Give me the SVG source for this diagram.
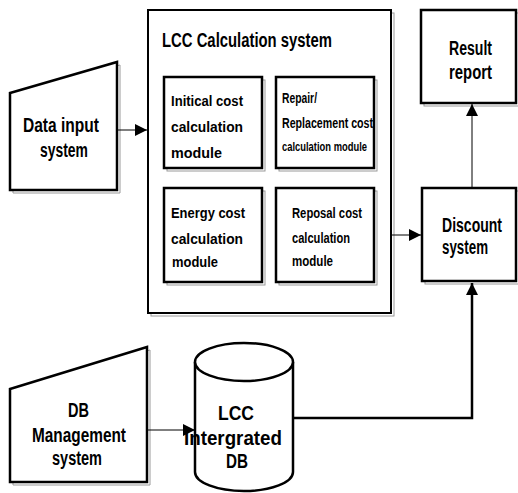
<svg xmlns="http://www.w3.org/2000/svg" width="518" height="493" viewBox="0 0 518 493">
<defs>
<style>
.sh{fill:none;stroke:#9a9a9a;stroke-width:1}
.bx{fill:#fff;stroke:#000;stroke-width:2.5}
.big{fill:#fff;stroke:#000;stroke-width:2}
.t{font-family:"Liberation Sans",Arial,sans-serif;font-weight:bold;fill:#000}
.l{font-size:19.5px}
.m{font-size:14px}
.s{font-size:13px}
.thin{fill:none;stroke:#000;stroke-width:1}
.thick{fill:none;stroke:#000;stroke-width:2.5}
</style>
<marker id="ah" markerUnits="userSpaceOnUse" markerWidth="12" markerHeight="12" viewBox="0 0 12 12" refX="12" refY="6" orient="auto">
<path d="M0,0 L12,6 L0,12 Z" fill="#000"/>
</marker>
</defs>
<rect width="518" height="493" fill="#fff"/>

<g id="data-input">
<polygon class="sh" points="13,96 120,65 120,193 13,193"/>
<polygon class="bx" points="10,93 117,62 117,190 10,190"/>
<text class="t l" x="23" y="132" textLength="76" lengthAdjust="spacingAndGlyphs">Data input</text>
<text class="t l" x="40" y="157" textLength="48" lengthAdjust="spacingAndGlyphs">system</text>
</g>

<g id="lcc-calc">
<rect class="sh" x="151" y="13" width="243" height="303"/>
<rect class="big" x="148" y="10" width="243" height="303"/>
<text class="t l" x="162" y="47" textLength="170" lengthAdjust="spacingAndGlyphs">LCC Calculation system</text>
</g>

<g id="initial-cost">
<rect class="sh" x="167" y="80" width="98" height="91"/>
<rect class="bx" x="164" y="77" width="98" height="91"/>
<text class="t m" x="171" y="106" textLength="72" lengthAdjust="spacingAndGlyphs">Initical cost</text>
<text class="t m" x="171" y="132" textLength="72" lengthAdjust="spacingAndGlyphs">calculation</text>
<text class="t m" x="171" y="158" textLength="51" lengthAdjust="spacingAndGlyphs">module</text>
</g>

<g id="repair-cost">
<rect class="sh" x="279" y="80" width="98" height="91"/>
<rect class="bx" x="276" y="77" width="98" height="91"/>
<text class="t m" x="282" y="103" textLength="35" lengthAdjust="spacingAndGlyphs">Repair/</text>
<text class="t m" x="282" y="128" textLength="91" lengthAdjust="spacingAndGlyphs">Replacement cost</text>
<text class="t s" x="282" y="151" textLength="85" lengthAdjust="spacingAndGlyphs">calculation module</text>
</g>

<g id="energy-cost">
<rect class="sh" x="167" y="191" width="98" height="94"/>
<rect class="bx" x="164" y="188" width="98" height="94"/>
<text class="t m" x="171" y="218" textLength="74" lengthAdjust="spacingAndGlyphs">Energy cost</text>
<text class="t m" x="171" y="244" textLength="72" lengthAdjust="spacingAndGlyphs">calculation</text>
<text class="t m" x="172" y="267" textLength="46" lengthAdjust="spacingAndGlyphs">module</text>
</g>

<g id="reposal-cost">
<rect class="sh" x="279" y="191" width="98" height="94"/>
<rect class="bx" x="276" y="188" width="98" height="94"/>
<text class="t m" x="292" y="218" textLength="70" lengthAdjust="spacingAndGlyphs">Reposal cost</text>
<text class="t m" x="292" y="243" textLength="58" lengthAdjust="spacingAndGlyphs">calculation</text>
<text class="t m" x="292" y="266" textLength="41" lengthAdjust="spacingAndGlyphs">module</text>
</g>

<g id="result-report">
<rect class="sh" x="424" y="13" width="96" height="93"/>
<rect class="bx" x="421" y="10" width="95" height="93"/>
<text class="t l" x="449" y="55" textLength="43" lengthAdjust="spacingAndGlyphs">Result</text>
<text class="t l" x="449" y="79" textLength="43" lengthAdjust="spacingAndGlyphs">report</text>
</g>

<g id="discount">
<rect class="sh" x="425" y="191" width="96" height="93"/>
<rect class="bx" x="422" y="188" width="94" height="93"/>
<text class="t l" x="442" y="232" textLength="60" lengthAdjust="spacingAndGlyphs">Discount</text>
<text class="t l" x="442" y="254" textLength="46" lengthAdjust="spacingAndGlyphs">system</text>
</g>

<g id="db-management">
<polygon class="sh" points="13,392 150,350 150,485 13,485"/>
<polygon class="bx" points="10,389 147,347 147,482 10,482"/>
<text class="t l" x="68" y="417" textLength="21" lengthAdjust="spacingAndGlyphs">DB</text>
<text class="t l" x="32" y="442" textLength="94" lengthAdjust="spacingAndGlyphs">Management</text>
<text class="t l" x="52" y="465" textLength="50" lengthAdjust="spacingAndGlyphs">system</text>
</g>

<g id="lcc-db">
<path class="bx" d="M195,362 A49,19 0 0,1 293,362 L293,472 A49,19 0 0,1 195,472 Z"/>
<path class="bx" fill="none" d="M195,362 A49,19 0 0,0 293,362"/>
<text class="t l" text-anchor="middle" x="236" y="420" textLength="36" lengthAdjust="spacingAndGlyphs">LCC</text>
<text class="t l" text-anchor="middle" x="233" y="445" textLength="98" lengthAdjust="spacingAndGlyphs">Intergrated</text>
<text class="t l" text-anchor="middle" x="237" y="468" textLength="22" lengthAdjust="spacingAndGlyphs">DB</text>
</g>

<g id="connectors">
<line class="thin" x1="117" y1="130" x2="147" y2="130" marker-end="url(#ah)"/>
<line class="thin" x1="391" y1="235" x2="421" y2="235" marker-end="url(#ah)"/>
<line class="thin" x1="472" y1="188" x2="472" y2="104" marker-end="url(#ah)"/>
<line class="thin" x1="147" y1="430" x2="195" y2="430" marker-end="url(#ah)"/>
<polyline class="thick" points="293,418 472,418 472,283" marker-end="url(#ah)"/>
</g>
</svg>
